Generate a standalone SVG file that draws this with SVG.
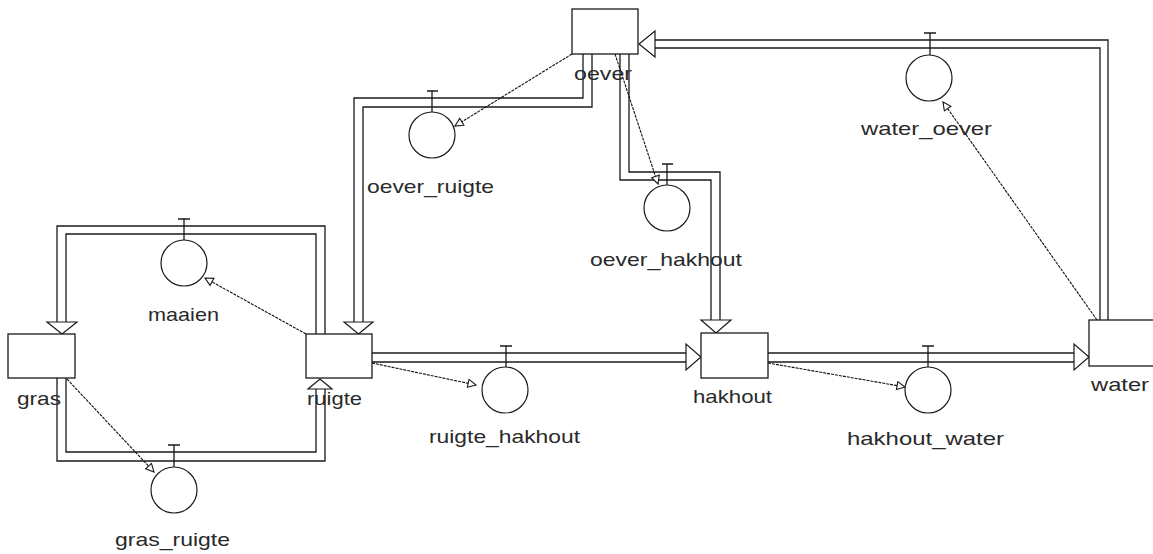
<svg xmlns="http://www.w3.org/2000/svg" width="1153" height="554" viewBox="0 0 1153 554">
<defs>
<style>
.pipe{fill:none;stroke:#1a1a1a;stroke-width:1.3}
.head{fill:#fff;stroke:#1a1a1a;stroke-width:1.2}
.box{fill:#fff;stroke:#1a1a1a;stroke-width:1.3}
.valve{fill:#fff;stroke:#1a1a1a;stroke-width:1.2}
.tee{fill:none;stroke:#1a1a1a;stroke-width:1.3}
.link{fill:none;stroke:#111;stroke-width:1.1;stroke-dasharray:3 1}
.lbl{font-family:"Liberation Sans",Arial,sans-serif;font-size:19px;fill:#2a2a2a}
</style>
<marker id="oa" markerWidth="12" markerHeight="12" refX="9" refY="5" orient="auto" markerUnits="userSpaceOnUse">
<path d="M1,1 L9,5 L1,9 Z" fill="#fff" stroke="#1a1a1a" stroke-width="1.1"/>
</marker>
</defs>
<rect width="1153" height="554" fill="#fff"/>

<g id="connectors">
<!-- ruigte -> gras (maaien) -->
<polyline class="pipe" points="325,334 325,226 57,226 57,322"/>
<polyline class="pipe" points="316,334 316,234 66,234 66,322"/>
<path class="head" d="M47,322 L77,322 L62,334 Z"/>
<!-- gras -> ruigte (gras_ruigte) -->
<polyline class="pipe" points="57,378 57,461 325,461 325,389"/>
<polyline class="pipe" points="66,378 66,452 316,452 316,389"/>
<path class="head" d="M308,389 L332,389 L320,379 Z"/>
<!-- oever -> ruigte -->
<polyline class="pipe" points="583,54 583,98 354,98 354,322"/>
<polyline class="pipe" points="592,54 592,107 363,107 363,322"/>
<path class="head" d="M344,322 L373,322 L358.5,334 Z"/>
<!-- oever -> hakhout -->
<polyline class="pipe" points="620,54 620,180 711,180 711,320"/>
<polyline class="pipe" points="629,54 629,172 720,172 720,320"/>
<path class="head" d="M701,320 L731,320 L716,333 Z"/>
<!-- ruigte -> hakhout -->
<line class="pipe" x1="372" y1="353" x2="686" y2="353"/>
<line class="pipe" x1="372" y1="362" x2="686" y2="362"/>
<path class="head" d="M686,344 L686,370 L701,357 Z"/>
<!-- hakhout -> water -->
<line class="pipe" x1="768" y1="353" x2="1074" y2="353"/>
<line class="pipe" x1="768" y1="362" x2="1074" y2="362"/>
<path class="head" d="M1074,344 L1074,370 L1089,357 Z"/>
<!-- water -> oever -->
<polyline class="pipe" points="1108,320 1108,40 655,40"/>
<polyline class="pipe" points="1100,320 1100,48 655,48"/>
<path class="head" d="M655,31 L655,57 L639,44 Z"/>
<!-- information links -->
<line class="link" x1="306" y1="334" x2="205" y2="278" marker-end="url(#oa)"/>
<line class="link" x1="67" y1="379" x2="154" y2="472" marker-end="url(#oa)"/>
<line class="link" x1="572" y1="54" x2="455" y2="126" marker-end="url(#oa)"/>
<line class="link" x1="615" y1="54" x2="658" y2="184" marker-end="url(#oa)"/>
<line class="link" x1="1097" y1="320" x2="943" y2="102" marker-end="url(#oa)"/>
<line class="link" x1="372" y1="363" x2="476" y2="385" marker-end="url(#oa)"/>
<line class="link" x1="768" y1="363" x2="905" y2="387" marker-end="url(#oa)"/>
</g>

<g id="gras">
<rect class="box" x="8" y="334" width="67" height="44"/>
<text class="lbl" x="17" y="405" textLength="44" lengthAdjust="spacingAndGlyphs">gras</text>
</g>
<g id="ruigte">
<rect class="box" x="306" y="334" width="66" height="44"/>
<text class="lbl" x="307" y="405" textLength="55" lengthAdjust="spacingAndGlyphs">ruigte</text>
</g>
<g id="oever">
<rect class="box" x="572" y="9" width="66" height="45"/>
<text class="lbl" x="574" y="80" textLength="58" lengthAdjust="spacingAndGlyphs">oever</text>
</g>
<g id="hakhout">
<rect class="box" x="701" y="333" width="67" height="45"/>
<text class="lbl" x="693" y="403" textLength="79" lengthAdjust="spacingAndGlyphs">hakhout</text>
</g>
<g id="water">
<rect class="box" x="1089" y="320" width="80" height="46"/>
<text class="lbl" x="1091" y="391" textLength="58" lengthAdjust="spacingAndGlyphs">water</text>
</g>

<g id="maaien">
<path class="tee" d="M178,219 H190 M184,219 V240"/>
<circle class="valve" cx="184" cy="263" r="23"/>
<text class="lbl" x="148" y="321" textLength="71" lengthAdjust="spacingAndGlyphs">maaien</text>
</g>
<g id="gras_ruigte">
<path class="tee" d="M168,445 H180 M174,445 V467"/>
<circle class="valve" cx="174" cy="490" r="23"/>
<text class="lbl" x="115" y="546" textLength="115" lengthAdjust="spacingAndGlyphs">gras_ruigte</text>
</g>
<g id="oever_ruigte">
<path class="tee" d="M427,91 H438 M432,91 V112"/>
<circle class="valve" cx="432" cy="135" r="23"/>
<text class="lbl" x="367" y="193" textLength="127" lengthAdjust="spacingAndGlyphs">oever_ruigte</text>
</g>
<g id="oever_hakhout">
<path class="tee" d="M662,164 H673 M667,164 V185"/>
<circle class="valve" cx="667" cy="208" r="23"/>
<text class="lbl" x="590" y="266" textLength="152" lengthAdjust="spacingAndGlyphs">oever_hakhout</text>
</g>
<g id="water_oever">
<path class="tee" d="M924,33 H936 M930,33 V55"/>
<circle class="valve" cx="929" cy="78" r="23"/>
<text class="lbl" x="861" y="135" textLength="131" lengthAdjust="spacingAndGlyphs">water_oever</text>
</g>
<g id="ruigte_hakhout">
<path class="tee" d="M500,346 H512 M506,346 V367"/>
<circle class="valve" cx="505" cy="390" r="23"/>
<text class="lbl" x="429" y="443" textLength="151" lengthAdjust="spacingAndGlyphs">ruigte_hakhout</text>
</g>
<g id="hakhout_water">
<path class="tee" d="M922,346 H934 M928,346 V367"/>
<circle class="valve" cx="928" cy="390" r="23"/>
<text class="lbl" x="847" y="445" textLength="157" lengthAdjust="spacingAndGlyphs">hakhout_water</text>
</g>
</svg>
